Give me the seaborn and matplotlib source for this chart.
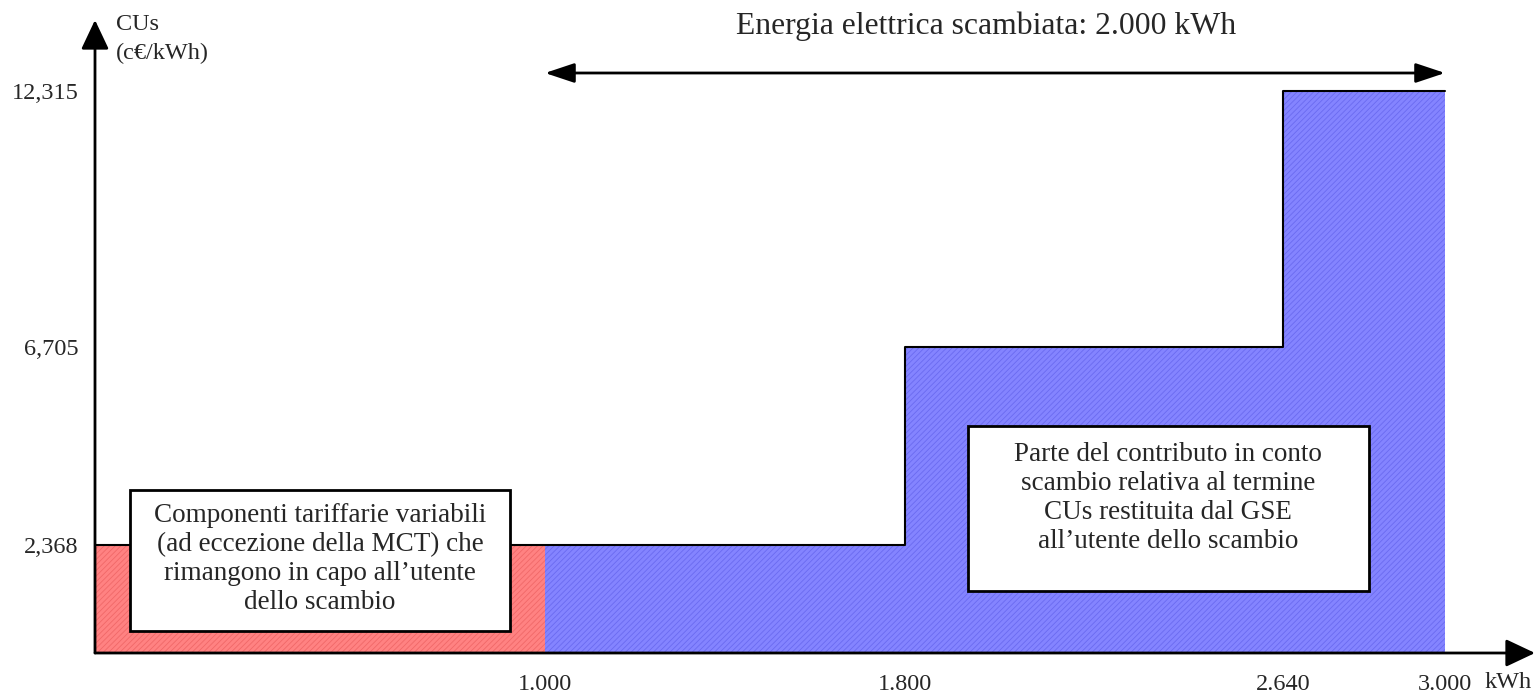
import matplotlib
matplotlib.use("Agg")
import matplotlib.pyplot as plt
import matplotlib.patches as patches
import seaborn as sns
import pandas as pd

# step edges (kWh) and CUs values (c€/kWh)
step_x = [0, 1000, 1800, 2640, 3000]
step_y = [2.368, 2.368, 6.705, 12.315, 12.315]
red_x = [0, 1000]
red_y = [2.368, 2.368]
blue_x = [1000, 1800, 2640, 3000]
blue_y = [2.368, 6.705, 12.315, 12.315]

x_ticks = [1000, 1800, 2640, 3000]
x_labels = ["1.000", "1.800", "2.640", "3.000"]
y_ticks = [2.368, 6.705, 12.315]
y_labels = ["2,368", "6,705", "12,315"]

title = "Energia elettrica scambiata: 2.000 kWh"
left_note = ("Componenti tariffarie variabili\n(ad eccezione della MCT) che\n"
             "rimangono in capo all\u2019utente\ndello scambio")
right_note = ("Parte del contributo in conto\nscambio relativa al termine\n"
              "CUs restituita dal GSE\nall\u2019utente dello scambio")

sns.set_style("white")
plt.rcParams['font.family'] = ['Liberation Serif', 'DejaVu Serif']
plt.rcParams['hatch.linewidth'] = 0.6

PX = 45.6  # pixels per c€/kWh

fig = plt.figure(figsize=(15.38, 6.96), dpi=100)
ax = fig.add_axes([95 / 1538, 43 / 696, 1440 / 1538, 633 / 696])
ax.set_xlim(0, 3200)
ax.set_ylim(0, 633 / PX)

# hatched step areas
ax.fill_between(red_x, red_y, step="post", facecolor="#ff8282",
                edgecolor="#f06868", hatch="//////", linewidth=0)
ax.fill_between(blue_x, blue_y, step="post", facecolor="#8484ff",
                edgecolor="#6a6af0", hatch="//////", linewidth=0)

# outline of the step
df = pd.DataFrame({"kWh": step_x, "CUs": step_y})
sns.lineplot(data=df, x="kWh", y="CUs", drawstyle="steps-post",
             color="black", linewidth=1.5, ax=ax)

# axes drawn as arrows
for s in ax.spines.values():
    s.set_visible(False)
arrow_kw = dict(arrowstyle="-|>,head_length=1.8,head_width=0.85",
                color="black", lw=2, shrinkA=0, shrinkB=0)
ax.annotate("", xy=(1, 0), xytext=(0, 0), xycoords="axes fraction",
            arrowprops=arrow_kw)
ax.annotate("", xy=(0, 1), xytext=(0, 0), xycoords="axes fraction",
            arrowprops=arrow_kw)

# double arrow for exchanged energy
ax.annotate("", xy=(3000, 580 / PX), xytext=(1000, 580 / PX),
            arrowprops=dict(arrowstyle="<|-|>,head_length=1.8,head_width=0.6",
                            color="black", lw=2, shrinkA=0, shrinkB=0))
ax.text(1980, 627 / PX, title, ha="center", va="center", fontsize=22.8)

ax.set_xticks(x_ticks, x_labels)
ax.set_yticks(y_ticks, y_labels)
ax.tick_params(axis="both", length=0, labelsize=17.5)
ax.tick_params(axis="x", pad=15)
ax.tick_params(axis="y", pad=12)
ax.set_xlabel("")
ax.set_ylabel("")

fig.text(1508 / 1538, 1 - 683 / 696, "kWh", ha="center", va="center", fontsize=17.5)
fig.text(116 / 1538, 1 - 25 / 696, "CUs", ha="left", va="center", fontsize=17.5)
fig.text(116 / 1538, 1 - 53 / 696, "(c\u20ac/kWh)", ha="left", va="center", fontsize=17.5)

# annotation boxes
ax.add_patch(patches.Rectangle((78, 22 / PX), 844, 141 / PX, facecolor="white",
                               edgecolor="black", linewidth=2, zorder=5))
ax.text(500, 94 / PX, left_note, ha="center", va="center", fontsize=19.5,
        linespacing=1.2, zorder=6)
ax.add_patch(patches.Rectangle((1940, 62 / PX), 891, 165 / PX, facecolor="white",
                               edgecolor="black", linewidth=2, zorder=5))
ax.text(2384, 155 / PX, right_note, ha="center", va="center", fontsize=19.5,
        linespacing=1.2, zorder=6)

fig.savefig("out.png", dpi=100)
